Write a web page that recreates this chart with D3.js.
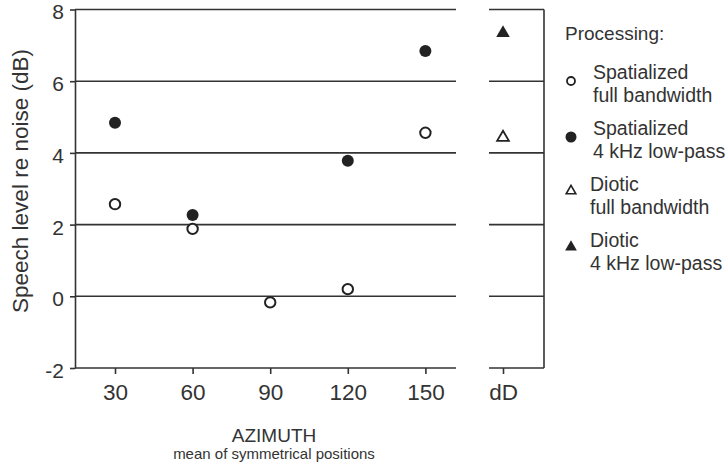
<!DOCTYPE html>
<html>
<head>
<meta charset="utf-8">
<script src="https://cdn.jsdelivr.net/npm/d3@7"></script>
<style>
  body { margin: 0; background: #fff; }
  svg { display: block; font-family: "Liberation Sans", Arial, Helvetica, sans-serif; }
  text { fill: #333; }
</style>
</head>
<body>
<div id="chart"></div>
<script>
// categories along the x axis (azimuth, then the diotic reference)
var categories = ["30", "60", "90", "120", "150", "dD"];
var yTicks = [-2, 0, 2, 4, 6, 8];

// speech level re noise (dB)
var spatialFull = [2.57, 1.88, -0.17, 0.2, 4.56];      // open circles
var spatialLowpass = [4.84, 2.27, null, 3.78, 6.84];   // filled circles
var dioticFull = [4.43];                               // open triangle at dD
var dioticLowpass = [7.34];                            // filled triangle at dD

var w = 726, h = 469;
var plotLeft = 75, plotRight = 544;
var gapLeft = 456, gapRight = 489;   // break in the axis between 150 and dD

var ink = "#333";

var svg = d3.select("#chart").append("svg")
    .attr("width", w)
    .attr("height", h);

var x = d3.scalePoint()
    .domain(categories)
    .range([115, 503]);

var y = d3.scaleLinear()
    .domain([-2, 8])
    .range([368, 9.5]);

// horizontal rules (also the top border), broken between 150 and dD
var rules = [0, 2, 4, 6, 8];
rules.forEach(function(v) {
    svg.append("line")
       .attr("x1", plotLeft).attr("x2", gapLeft)
       .attr("y1", y(v)).attr("y2", y(v))
       .attr("stroke", ink).attr("stroke-width", 1.6);
    svg.append("line")
       .attr("x1", gapRight).attr("x2", plotRight)
       .attr("y1", y(v)).attr("y2", y(v))
       .attr("stroke", ink).attr("stroke-width", 1.6);
});

// bottom axis line, same break
svg.append("line")
   .attr("x1", plotLeft).attr("x2", gapLeft)
   .attr("y1", y(-2)).attr("y2", y(-2))
   .attr("stroke", ink).attr("stroke-width", 1.6);
svg.append("line")
   .attr("x1", gapRight).attr("x2", plotRight)
   .attr("y1", y(-2)).attr("y2", y(-2))
   .attr("stroke", ink).attr("stroke-width", 1.6);

// right border
svg.append("line")
   .attr("x1", plotRight).attr("x2", plotRight)
   .attr("y1", y(8)).attr("y2", y(-2))
   .attr("stroke", ink).attr("stroke-width", 1.6);

// y axis
var yAxis = d3.axisLeft(y)
    .tickValues(yTicks)
    .tickFormat(d3.format("d"))
    .tickSize(5)
    .tickSizeOuter(0)
    .tickPadding(6);

var gy = svg.append("g")
    .attr("transform", "translate(" + plotLeft + ",0)")
    .call(yAxis);
gy.selectAll("path, line").attr("stroke", ink).attr("stroke-width", 1.6);
gy.selectAll("text")
  .attr("fill", ink)
  .attr("dy", "0.45em")
  .style("font-size", "21px")
  .style("font-family", "inherit")
  .text(function(d) { return d < 0 ? "-" + Math.abs(d) : d; });

// x axis (ticks and labels only; the line is drawn above with its break)
var xAxis = d3.axisBottom(x)
    .tickSize(6)
    .tickPadding(10);

var gx = svg.append("g")
    .attr("transform", "translate(0," + y(-2) + ")")
    .call(xAxis);
gx.select(".domain").remove();
gx.selectAll("line").attr("stroke", ink).attr("stroke-width", 1.6);
gx.selectAll("text")
  .attr("fill", ink)
  .style("font-size", "22.5px")
  .style("font-family", "inherit");

// axis titles
svg.append("text")
   .attr("transform", "translate(28,181) rotate(-90)")
   .attr("text-anchor", "middle")
   .style("font-size", "22.5px")
   .text("Speech level re noise (dB)");

svg.append("text")
   .attr("x", 274).attr("y", 442)
   .attr("text-anchor", "middle")
   .style("font-size", "19px")
   .text("AZIMUTH");

svg.append("text")
   .attr("x", 274).attr("y", 459)
   .attr("text-anchor", "middle")
   .style("font-size", "15px")
   .text("mean of symmetrical positions");

// data marks
var azimuths = categories.slice(0, 5);

svg.selectAll("circle.sfull")
   .data(azimuths.map(function(c, i) { return { c: c, v: spatialFull[i] }; })
                 .filter(function(d) { return d.v != null; }))
   .enter().append("circle")
   .attr("class", "sfull")
   .attr("cx", function(d) { return x(d.c); })
   .attr("cy", function(d) { return y(d.v); })
   .attr("r", 5.2)
   .attr("fill", "#fff")
   .attr("stroke", "#222")
   .attr("stroke-width", 2);

svg.selectAll("circle.slp")
   .data(azimuths.map(function(c, i) { return { c: c, v: spatialLowpass[i] }; })
                 .filter(function(d) { return d.v != null; }))
   .enter().append("circle")
   .attr("class", "slp")
   .attr("cx", function(d) { return x(d.c); })
   .attr("cy", function(d) { return y(d.v); })
   .attr("r", 6)
   .attr("fill", "#222");

var tri = d3.symbol().type(d3.symbolTriangle);

svg.selectAll("path.dfull")
   .data(dioticFull)
   .enter().append("path")
   .attr("class", "dfull")
   .attr("d", tri.size(60)())
   .attr("transform", function(d) { return "translate(" + x("dD") + "," + y(d) + ")"; })
   .attr("fill", "#fff")
   .attr("stroke", "#222")
   .attr("stroke-width", 1.8);

svg.selectAll("path.dlp")
   .data(dioticLowpass)
   .enter().append("path")
   .attr("class", "dlp")
   .attr("d", tri.size(80)())
   .attr("transform", function(d) { return "translate(" + x("dD") + "," + y(d) + ")"; })
   .attr("fill", "#222");

// legend
var legendItems = [
    { lines: ["Spatialized", "full bandwidth"], shape: "circle", filled: false },
    { lines: ["Spatialized", "4 kHz low-pass"], shape: "circle", filled: true },
    { lines: ["Diotic", "full bandwidth"], shape: "triangle", filled: false },
    { lines: ["Diotic", "4 kHz low-pass"], shape: "triangle", filled: true }
];

svg.append("text")
   .attr("x", 565).attr("y", 40)
   .style("font-size", "19px")
   .text("Processing:");

var lg = svg.selectAll("g.legend")
    .data(legendItems)
    .enter().append("g")
    .attr("class", "legend")
    .attr("transform", function(d, i) { return "translate(0," + (72 + i * 56) + ")"; });

lg.each(function(d) {
    var g = d3.select(this);
    var tx = d.shape === "circle" ? 593 : 590;
    if (d.shape === "circle") {
        g.append("circle")
         .attr("cx", 571).attr("cy", 9)
         .attr("r", d.filled ? 5.5 : 4)
         .attr("fill", d.filled ? "#222" : "#fff")
         .attr("stroke", "#222")
         .attr("stroke-width", d.filled ? 0 : 1.8);
    } else {
        g.append("path")
         .attr("d", tri.size(d.filled ? 60 : 40)())
         .attr("transform", "translate(571,7)")
         .attr("fill", d.filled ? "#222" : "#fff")
         .attr("stroke", "#222")
         .attr("stroke-width", d.filled ? 0 : 1.6);
    }
    g.selectAll("text")
     .data(d.lines)
     .enter().append("text")
     .attr("x", tx)
     .attr("y", function(t, j) { return 7 + j * 23; })
     .style("font-size", "19.5px")
     .text(function(t) { return t; });
});
</script>
</body>
</html>
